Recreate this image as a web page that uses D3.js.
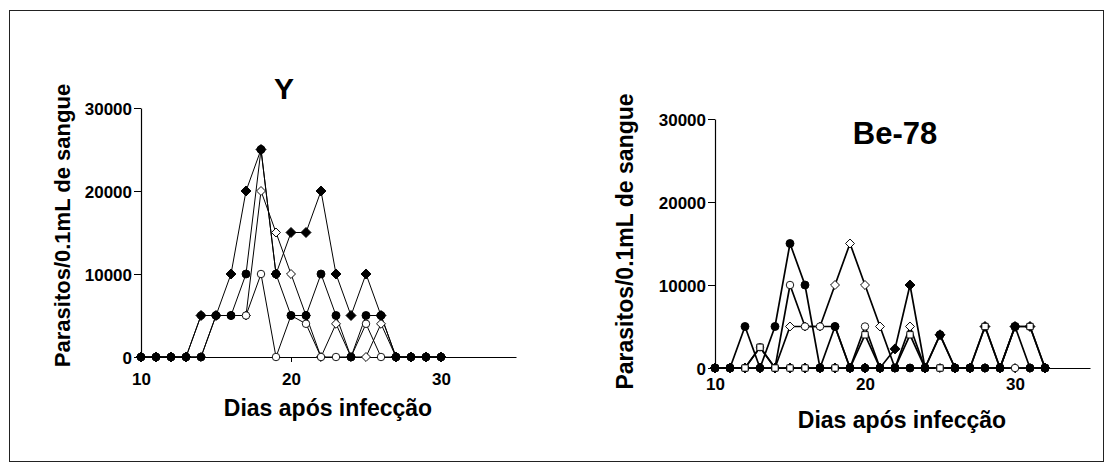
<!DOCTYPE html>
<html>
<head>
<meta charset="utf-8">
<script src="https://cdn.jsdelivr.net/npm/d3@7"></script>
<style>
  body { margin: 0; background: #fff; }
  text { font-family: "Liberation Sans", Arial, sans-serif; font-weight: bold; fill: #000; }
</style>
</head>
<body>
<div id="chart"></div>
<script>
// dias apos infeccao
const daysY = [10,11,12,13,14,15,16,17,18,19,20,21,22,23,24,25,26,27,28,29,30]
const daysBe = [10,11,12,13,14,15,16,17,18,19,20,21,22,23,24,25,26,27,28,29,30,31,32]

// cepa Y (one array per mouse)
const yFilledDiamond = [0,0,0,0,5000,5000,10000,20000,25000,10000,15000,15000,20000,10000,5000,10000,5000,0,0,0,0]
const yFilledCircle  = [0,0,0,0,0,5000,5000,10000,25000,10000,5000,5000,10000,5000,0,5000,5000,0,0,0,0]
const yOpenDiamond   = [0,0,0,0,0,5000,5000,5000,20000,15000,10000,5000,0,4000,0,0,4000,0,0,0,0]
const yOpenCircle    = [0,0,0,0,5000,5000,5000,5000,10000,0,5000,4000,0,0,0,4000,0,0,0,0,0]

// cepa Be-78
const beFilledCircle  = [0,0,5000,0,5000,15000,10000,0,5000,0,0,0,0,0,0,4000,0,0,0,0,5000,0,0]
const beOpenCircle    = [0,0,0,2500,0,10000,5000,5000,5000,0,5000,0,0,0,0,0,0,0,0,0,0,0,0]
const beOpenDiamond   = [0,0,0,0,0,5000,5000,5000,10000,15000,10000,5000,0,5000,0,0,0,0,0,0,0,0,0]
const beFilledDiamond = [0,0,0,0,0,0,0,0,0,0,0,0,2300,10000,0,4000,0,0,5000,0,5000,5000,0]
const beOpenSquare    = [0,0,0,2500,0,0,0,0,0,0,4000,0,0,4000,0,0,0,0,5000,0,5000,5000,0]

const yTicks = [0, 10000, 20000, 30000]
const xTicks = [10, 20, 30]

const svg = d3.select("#chart").append("svg")
    .attr("width", 1112)
    .attr("height", 470)

svg.append("rect")
    .attr("x", 9.5).attr("y", 10.5)
    .attr("width", 1094).attr("height", 451)
    .attr("fill", "#fff").attr("stroke", "#222").attr("stroke-width", 1)

function drawPanel(cfg) {
    const g = svg.append("g")
        .attr("transform", `translate(${cfg.left}, ${cfg.top})`)

    const x = d3.scaleLinear().domain([10, 35]).range([0, 375])
    const y = d3.scaleLinear().domain([0, 30000]).range([cfg.h, 0])

    g.append("g")
        .attr("transform", `translate(0, ${cfg.h})`)
        .call(d3.axisBottom(x).tickValues(xTicks).tickSize(5).tickSizeOuter(0))
        .call(a => a.select(".domain").attr("stroke", "#000").attr("stroke-width", 1.2))
        .call(a => a.selectAll("text").attr("font-size", 17).attr("dy", cfg.xTickDy))

    g.append("g")
        .call(d3.axisLeft(y).tickValues(yTicks).tickSize(7).tickSizeOuter(0).tickFormat(d => d))
        .call(a => a.select(".domain").attr("stroke", "#000").attr("stroke-width", 1.2))
        .call(a => a.selectAll("text").attr("font-size", 17).attr("dy", "0.36em").attr("x", -9))

    const line = d3.line().x(d => x(d[0])).y(d => y(d[1]))

    cfg.series.forEach(s => {
        const pts = cfg.days.map((d, i) => [d, s.values[i]])
        g.append("path")
            .datum(pts)
            .attr("fill", "none")
            .attr("stroke", "#000")
            .attr("stroke-width", cfg.lw)
            .attr("d", line)
    })

    cfg.series.forEach(s => {
        const pts = cfg.days.map((d, i) => [d, s.values[i]])
        const sym = d3.symbol().type(s.shape).size(s.size)
        g.selectAll(null)
            .data(pts)
            .enter().append("path")
            .attr("transform", d => `translate(${x(d[0])}, ${y(d[1])})` + (s.rot ? " rotate(45)" : ""))
            .attr("d", sym)
            .attr("fill", s.fill)
            .attr("stroke", "#000")
            .attr("stroke-width", 0.9)
    })

    g.append("text")
        .attr("x", cfg.titleX).attr("y", cfg.titleY)
        .attr("text-anchor", "middle")
        .attr("font-size", cfg.titleSize)
        .text(cfg.title)

    g.append("text")
        .attr("x", 187).attr("y", cfg.h + cfg.xLabelY)
        .attr("text-anchor", "middle")
        .attr("font-size", 23)
        .text("Dias após infecção")

    g.append("text")
        .attr("transform", `translate(${cfg.yLabelX}, ${cfg.h / 2 + cfg.yLabelShift}) rotate(-90)`)
        .attr("text-anchor", "middle")
        .attr("font-size", cfg.yLabelSize)
        .text("Parasitos/0.1mL de sangue")
}

const diamond = { shape: d3.symbolSquare, rot: true }

drawPanel({
    left: 141, top: 108, h: 249, days: daysY, lw: 1, title: "Y",
    titleX: 143, titleY: -9, titleSize: 30, xLabelY: 59, xTickDy: "1.15em",
    yLabelX: -71, yLabelShift: -7, yLabelSize: 22,
    series: [
        { values: yOpenDiamond, ...diamond, size: 40, fill: "#fff" },
        { values: yOpenCircle, shape: d3.symbolCircle, size: 44, fill: "#fff" },
        { values: yFilledDiamond, ...diamond, size: 50, fill: "#000" },
        { values: yFilledCircle, shape: d3.symbolCircle, size: 50, fill: "#000" }
    ]
})

drawPanel({
    left: 715, top: 119, h: 249, days: daysBe, lw: 1.7, title: "Be-78",
    titleX: 180, titleY: 25, titleSize: 31, xLabelY: 60, xTickDy: "0.8em",
    yLabelX: -82, yLabelShift: -2, yLabelSize: 23,
    series: [
        { values: beOpenDiamond, ...diamond, size: 40, fill: "#fff" },
        { values: beOpenCircle, shape: d3.symbolCircle, size: 44, fill: "#fff" },
        { values: beFilledDiamond, ...diamond, size: 50, fill: "#000" },
        { values: beOpenSquare, shape: d3.symbolSquare, size: 40, fill: "#fff" },
        { values: beFilledCircle, shape: d3.symbolCircle, size: 50, fill: "#000" }
    ]
})
</script>
</body>
</html>
